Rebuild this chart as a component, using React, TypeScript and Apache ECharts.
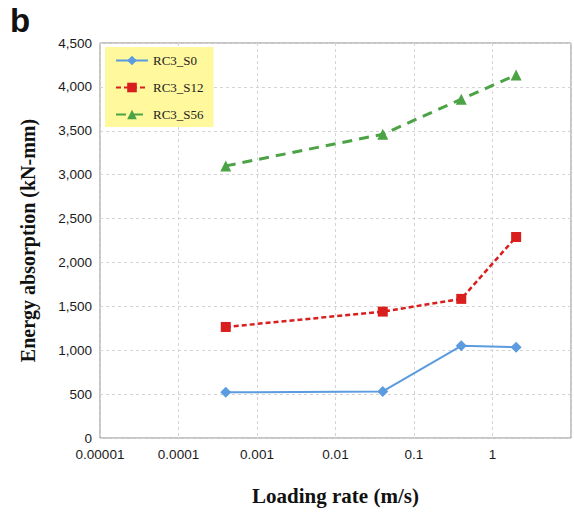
import React, { useEffect, useRef } from "react";
import * as echarts from "echarts";

const loadingRates = [0.0004, 0.04, 0.4, 2];
const seriesNames = ["RC3_S0", "RC3_S12", "RC3_S56"];
const s0Values = [520, 530, 1050, 1035];
const s12Values = [1265, 1440, 1585, 2290];
const s56Values = [3100, 3460, 3860, 4135];

const toPairs = (vals: number[]) => vals.map((v, i) => [loadingRates[i], v]);

export default function App() {
  const ref = useRef<HTMLDivElement>(null);
  useEffect(() => {
    if (!ref.current) return;
    const chart = echarts.init(ref.current, undefined, { renderer: "svg" });
    const serif = "Liberation Serif";
    const sans = "Liberation Sans";
    chart.setOption({
      animation: false,
      backgroundColor: "#ffffff",
      grid: {
        left: 100,
        right: 2,
        top: 43,
        bottom: 83,
        show: true,
        borderColor: "#8c8c8c",
        borderWidth: 1,
        backgroundColor: "transparent",
      },
      graphic: [
        {
          type: "text",
          left: 10,
          top: 4,
          style: { text: "b", font: "bold 33px " + sans, fill: "#111" },
        },
      ],
      legend: {
        orient: "vertical",
        left: 105,
        top: 47,
        backgroundColor: "#fff89c",
        padding: [7, 10, 6, 10],
        itemWidth: 32,
        itemHeight: 12,
        itemGap: 14,
        textStyle: { fontFamily: serif, fontSize: 13, color: "#222" },
        data: seriesNames,
      },
      xAxis: {
        type: "log",
        logBase: 10,
        min: 0.00001,
        max: 10,
        name: "Loading rate (m/s)",
        nameLocation: "middle",
        nameGap: 47,
        nameTextStyle: { fontFamily: serif, fontWeight: "bold", fontSize: 21, color: "#111" },
        axisLine: { show: false },
        axisTick: { show: false },
        axisLabel: {
          margin: 9,
          fontFamily: sans,
          fontSize: 13.5,
          color: "#1a1a1a",
          formatter: (v: number) => {
            const e = Math.round(Math.log10(v));
            if (e >= 1) return "";
            if (e < 0) return v.toFixed(-e);
            return String(Math.round(v));
          },
        },
        splitLine: { show: true, lineStyle: { color: "#d4d4d4", type: [3, 3], width: 1 } },
      },
      yAxis: {
        type: "value",
        min: 0,
        max: 4500,
        interval: 500,
        name: "Energy absorption (kN-mm)",
        nameLocation: "middle",
        nameGap: 62,
        nameTextStyle: { fontFamily: serif, fontWeight: "bold", fontSize: 20, color: "#111" },
        axisLine: { show: false },
        axisTick: { show: false },
        axisLabel: {
          margin: 8,
          fontFamily: sans,
          fontSize: 13.5,
          color: "#1a1a1a",
          formatter: (v: number) => v.toLocaleString("en-US"),
        },
        splitLine: { show: true, lineStyle: { color: "#d4d4d4", type: [3, 3], width: 1 } },
      },
      series: [
        {
          name: seriesNames[0],
          type: "line",
          data: toPairs(s0Values),
          symbol: "diamond",
          symbolSize: 11,
          itemStyle: { color: "#5b9be0" },
          lineStyle: { color: "#5b9be0", width: 2, type: "solid" },
        },
        {
          name: seriesNames[1],
          type: "line",
          data: toPairs(s12Values),
          symbol: "rect",
          symbolSize: 10,
          itemStyle: { color: "#d91e1e" },
          lineStyle: { color: "#d91e1e", width: 2.5, type: [5, 3] },
        },
        {
          name: seriesNames[2],
          type: "line",
          data: toPairs(s56Values),
          symbol: "triangle",
          symbolSize: 11,
          itemStyle: { color: "#4ca345" },
          lineStyle: { color: "#4ca345", width: 3, type: [10, 7] },
        },
      ],
    });
    return () => chart.dispose();
  }, []);
  return <div ref={ref} style={{ width: 574, height: 521, position: "absolute", left: 0, top: 0 }} />;
}
